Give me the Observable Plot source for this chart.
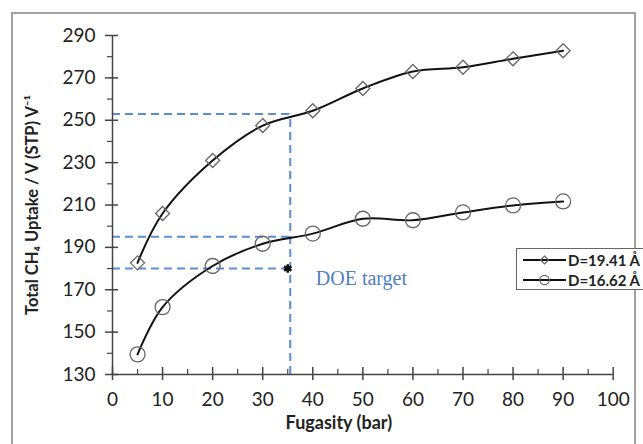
<!DOCTYPE html>
<html><head><meta charset="utf-8">
<script src="https://cdn.jsdelivr.net/npm/d3@7"></script>
<script src="https://cdn.jsdelivr.net/npm/@observablehq/plot@0.6"></script>
<style>
body{margin:0;background:#fff;}
#wrap{position:relative;width:643px;height:444px;overflow:hidden;background:#fff;}
#border{position:absolute;left:11px;top:12px;width:621px;height:440px;border:2px solid #a0a0a0;pointer-events:none;}
#legend{position:absolute;left:516px;top:248px;width:140px;height:40px;border:1.5px solid #666;background:#fff;font:bold 15px Lato, sans-serif;color:#222;}
#legend .row{position:absolute;left:0;height:20px;display:flex;align-items:center;white-space:nowrap;}
#legend svg{display:block;}
</style></head>
<body>
<div id="wrap"><div id="border"></div></div>
<script>
// ---- data ----
const fugacity = [5, 10, 20, 30, 40, 50, 60, 70, 80, 90];
const uptake1941 = [182.7, 206, 231, 247.5, 254.5, 265, 273, 275, 279, 282.8];
const uptake1662 = [139.5, 161.8, 181.2, 191.7, 196.5, 203.5, 202.8, 206.5, 209.8, 211.7];
const seriesNames = ["D=19.41 Å", "D=16.62 Å"];
const seriesSymbols = ["diamond2", "circle"];
const xMajor = [0, 10, 20, 30, 40, 50, 60, 70, 80, 90, 100];
const xMinor = [5, 15, 25, 35, 45, 55, 65, 75, 85, 95];
const yMajor = [130, 150, 170, 190, 210, 230, 250, 270, 290];
const yMinor = [140, 160, 180, 200, 220, 240, 260, 280];
const guideX = [35.5, 35.5, 35];
const guideY = [253, 195, 180];
const targetX = [35];
const targetY = [180];
const targetLabel = ["DOE target"];
const targetLabelX = [40.6];
const targetLabelY = [175.5];
const xTitle = "Fugasity (bar)";
const yTitle = "Total CH₄ Uptake / V (STP) V⁻¹";

const rows1941 = fugacity.map((f, i) => ({f, v: uptake1941[i], s: seriesNames[0]}));
const rows1662 = fugacity.map((f, i) => ({f, v: uptake1662[i], s: seriesNames[1]}));
const guides = guideX.map((x, i) => ({x, y: guideY[i]}));
const axisColor = "#444";
const blue = "#5b8fd0";

const chart = Plot.plot({
  width: 643, height: 444,
  marginLeft: 112, marginRight: 30.3, marginTop: 35, marginBottom: 70,
  x: {domain: [0, 100]},
  y: {domain: [130, 290]},
  style: {fontFamily: "Lato, sans-serif", fontSize: "19px", color: "#222", background: "transparent"},
  marks: [
    // guide lines
    Plot.ruleY(guides, {y: "y", x1: 0, x2: "x", stroke: blue, strokeWidth: 2, strokeDasharray: "8,5"}),
    Plot.ruleX([guides[0]], {x: "x", y1: 130, y2: "y", stroke: blue, strokeWidth: 2, strokeDasharray: "8,5"}),
    // axes lines
    Plot.ruleX([0], {stroke: axisColor, strokeWidth: 1.5}),
    Plot.ruleY([130], {stroke: axisColor, strokeWidth: 1.5}),
    Plot.axisY({ticks: yMajor, tickSize: 13, dx: 6, fill: "none", stroke: axisColor, strokeWidth: 1.5, label: null}),
    Plot.axisY({ticks: yMinor, tickSize: 5, fill: "none", stroke: axisColor, strokeWidth: 1.2, label: null}),
    Plot.axisY({ticks: yMajor, tickSize: 0, tickPadding: 17, label: null, fill: "#222", fontSize: 19}),
    Plot.axisX({ticks: xMajor, tickSize: 13, dy: -7, fill: "none", stroke: axisColor, strokeWidth: 1.5, label: null}),
    Plot.axisX({ticks: xMinor, tickSize: 5, dy: -5, fill: "none", stroke: axisColor, strokeWidth: 1.2, label: null}),
    Plot.axisX({ticks: xMajor, tickSize: 0, tickPadding: 18, label: null, fill: "#222", fontSize: 19}),
    // titles
    Plot.text([yTitle], {frameAnchor: "left", textAnchor: "middle", rotate: -90, dx: -80, fontWeight: "bold", fontSize: 16.5, fill: "#222"}),
    Plot.text([xTitle], {frameAnchor: "bottom", textAnchor: "middle", dy: 54, dx: -24, fontWeight: "bold", fontSize: 18, fill: "#222"}),
    // series
    Plot.line(rows1941, {x: "f", y: "v", curve: "catmull-rom", stroke: "#111", strokeWidth: 2}),
    Plot.line(rows1662, {x: "f", y: "v", curve: "catmull-rom", stroke: "#111", strokeWidth: 2}),
    Plot.dot(rows1941, {x: "f", y: "v", symbol: seriesSymbols[0], r: 6.3, fill: "none", stroke: "#666", strokeWidth: 1.3}),
    Plot.dot(rows1662, {x: "f", y: "v", symbol: seriesSymbols[1], r: 7.5, fill: "none", stroke: "#666", strokeWidth: 1.3}),
    // target
    Plot.dot(targetX.map((x, i) => ({x, y: targetY[i]})), {x: "x", y: "y", symbol: "asterisk", r: 4, fill: "#111", stroke: "#111", strokeWidth: 2.5}),
    Plot.text(targetLabel, {x: targetLabelX, y: targetLabelY, textAnchor: "start", fontFamily: "Liberation Serif, serif", fontSize: 20, fill: "#4f81bd"})
  ]
});
const wrap = document.getElementById("wrap");
wrap.insertBefore(chart, wrap.firstChild);

// legend
const leg = document.createElement("div");
leg.id = "legend";
seriesNames.forEach((name, i) => {
  const row = document.createElement("div");
  row.className = "row";
  row.style.top = (1 + i * 20) + "px";
  const sw = d3.create("svg").attr("width", 51).attr("height", 20);
  sw.append("line").attr("x1", 6).attr("x2", 49).attr("y1", 10).attr("y2", 10).attr("stroke", "#111").attr("stroke-width", 2);
  const sym = d3.symbol(seriesSymbols[i] === "circle" ? d3.symbolCircle : d3.symbolDiamond2, i === 0 ? 40 : 70);
  sw.append("path").attr("d", sym()).attr("transform", "translate(27.5,10)").attr("fill", "none").attr("stroke", "#666").attr("stroke-width", 1.2);
  row.appendChild(sw.node());
  const t = document.createElement("span");
  t.textContent = name;
  row.appendChild(t);
  leg.appendChild(row);
});
wrap.appendChild(leg);
</script>
</body></html>
